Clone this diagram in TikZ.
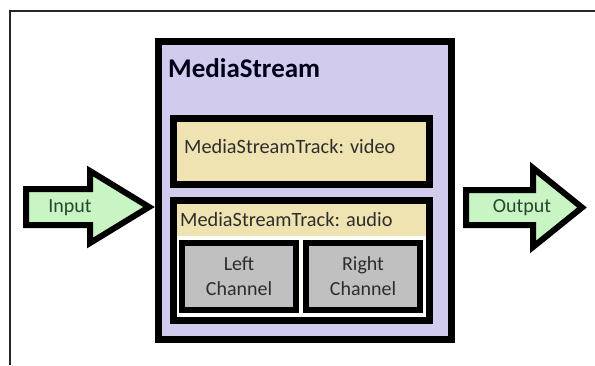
\documentclass[tikz,border=0pt]{standalone}
\usepackage{fontspec}
\setmainfont{Carlito}
\definecolor{streamfill}{RGB}{209,204,238}
\definecolor{trackfill}{RGB}{239,227,178}
\definecolor{chanfill}{RGB}{192,192,192}
\definecolor{arrowfill}{RGB}{200,245,195}
\definecolor{audiofill}{RGB}{255,255,250}
\definecolor{labeltext}{RGB}{45,45,45}
\definecolor{arrowtext}{RGB}{40,70,45}
\tikzset{
  thickbox/.style={draw=black, line width=7pt, rectangle, inner sep=0pt},
  chanbox/.style={draw=black, line width=6pt, rectangle, inner sep=0pt,
    fill=chanfill, minimum width=114pt, minimum height=67pt,
    font=\fontsize{20}{25}\selectfont, text=labeltext, align=center},
  blockarrow/.style={draw=black, line width=6pt, line join=miter, fill=arrowfill},
  arrowlabel/.style={font=\fontsize{20}{23}\selectfont, text=arrowtext},
  tracklabel/.style={font=\fontsize{20.3}{24}\selectfont, text=labeltext, anchor=base west, inner sep=0pt}
}
\begin{document}
\begin{tikzpicture}[x=1pt, y=-1pt]
  \useasboundingbox (0,0) rectangle (595,365);
  \fill[white] (0,0) rectangle (595,365);
  % frame lines
  \draw[line width=2pt, black!85] (10,365) -- (10,11) -- (595,11);

  % MediaStream container
  \node[thickbox, fill=streamfill, minimum width=293pt, minimum height=298pt] (stream) at (305,190.5) {};
  \node[font=\fontsize{27}{32}\selectfont\bfseries, text=black!90!blue, anchor=base west, inner sep=0pt] (title) at (168,77) {MediaStream};

  % video track
  \node[thickbox, fill=trackfill, minimum width=256pt, minimum height=66pt] (video) at (301.5,151.5) {};
  \node[tracklabel] (videolabel) at (184,153) {MediaStreamTrack: video};

  % audio track
  \node[thickbox, fill=audiofill, minimum width=256pt, minimum height=120pt] (audio) at (301.5,260.5) {};
  \fill[trackfill] (177,204) rectangle (426,236);
  \node[tracklabel] (audiolabel) at (180,226) {MediaStreamTrack: audio};

  % channels
  \node[chanbox] (left) at (239,276.5) {Left\\Channel};
  \node[chanbox] (right) at (363,276.5) {Right\\Channel};

  % input arrow
  \draw[blockarrow] (26,189) -- (90,189) -- (90,171) -- (149,207) -- (90,243) -- (90,225) -- (26,225) -- cycle;
  \node[arrowlabel] (input) at (70,208) {Input};

  % output arrow
  \draw[blockarrow] (466,190) -- (533,190) -- (533,168) -- (582,207.5) -- (533,247) -- (533,225) -- (466,225) -- cycle;
  \node[arrowlabel] (output) at (522,208) {Output};
\end{tikzpicture}
\end{document}
